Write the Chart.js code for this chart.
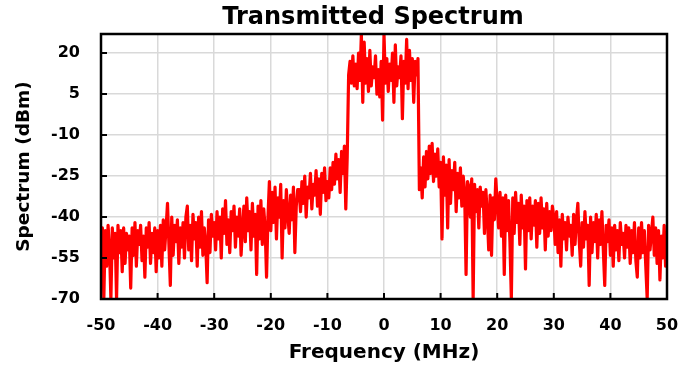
<!DOCTYPE html>
<html>
<head>
<meta charset="utf-8">
<script src="https://cdn.jsdelivr.net/npm/chart.js@4.4.1/dist/chart.umd.min.js"></script>
<style>
    html, body { margin: 0; padding: 0; background: #fff; }
    #wrap { width: 697px; height: 371px; }
</style>
</head>
<body>
<div id="wrap"><canvas id="spectrum" width="697" height="371"></canvas></div>
<script>
// Transmitted spectrum (dBm), one value every 0.25 MHz from -50 to 50
const freqStart = -50;
const freqStep = 0.25;

const spectrumDbm = [
    -56, -44, -70, -45, -58, -43, -52, -70, -44, -55, -46, -70, -43, -53, -45, -60, -44, -57, -46, -52, // -50
    -47, -66, -44, -54, -42, -58, -45, -50, -43, -56, -47, -62, -44, -51, -42, -57, -46, -53, -44, -60, // -45
    -45, -55, -43, -58, -41, -52, -44, -35, -50, -65, -40, -54, -43, -49, -41, -57, -44, -51, -42, -55, // -40
    -40, -36, -52, -43, -56, -39, -48, -42, -58, -40, -51, -38, -54, -44, -50, -64, -41, -53, -39, -47, // -35
    -42, -52, -38, -48, -40, -55, -37, -46, -34, -50, -41, -53, -38, -45, -36, -51, -40, -47, -37, -54, // -30
    -44, -36, -49, -33, -45, -38, -52, -35, -47, -39, -61, -36, -48, -34, -50, -37, -44, -62, -40, -27, // -25
    -45, -31, -42, -29, -48, -33, -40, -28, -55, -34, -44, -30, -39, -46, -32, -41, -29, -53, -36, -30, // -20
    -30, -38, -27, -35, -25, -40, -29, -33, -24, -37, -28, -32, -23, -36, -26, -39, -24, -31, -22, -34, // -15
    -27, -33, -22, -30, -20, -28, -17, -26, -19, -31, -16, -24, -14, -37, -18, 12, 17, 9, 19, 8,       // -10
    16, 7, 20, 10, 27, 2, 24, 9, 18, 6, 21, 8, 15, 11, 19, 5, 14, 4, 17, -4.5,                          // -5
    27, 9, 18, 6, 16, 10, 20, 2, 23, 8, 15, 11, 19, -4, 17, 9, 25, 7, 21, 10,                           // 0
    18, 2, 17, 12, 18, -30, -22, -33, -18, -29, -16, -26, -14, -24, -13, -27, -17, -25, -15, -29,       // 5
    -20, -48, -18, -32, -21, -44, -19, -35, -23, -30, -20, -38, -24, -33, -22, -36, -25, -31, -61, -27, // 10
    -29, -40, -26, -70, -28, -38, -30, -44, -29, -36, -31, -46, -30, -39, -52, -32, -54, -33, -41, -26, // 15
    -35, -44, -31, -47, -33, -61, -32, -45, -34, -49, -70, -33, -46, -31, -42, -35, -50, -32, -44, -36, // 20
    -59, -34, -45, -33, -48, -36, -43, -34, -51, -35, -46, -33, -44, -37, -52, -35, -47, -38, -45, -36, // 25
    -40, -50, -38, -53, -41, -58, -39, -48, -42, -52, -40, -47, -43, -54, -39, -50, -41, -35, -49, -58, // 30
    -42, -51, -38, -48, -43, -65, -40, -53, -42, -49, -39, -55, -41, -50, -38, -52, -65, -43, -49, -41, // 35
    -54, -44, -58, -43, -52, -45, -56, -42, -50, -46, -55, -43, -51, -44, -57, -45, -53, -42, -56, -62, // 40
    -44, -55, -42, -53, -45, -58, -70, -43, -52, -46, -40, -54, -44, -57, -45, -63, -47, -55, -43, -58, // 45
    -52                                                                                                 // 50
];

const yTicks = [-70, -55, -40, -25, -10, 5, 20];
const xTicks = [-50, -40, -30, -20, -10, 0, 10, 20, 30, 40, 50];

const points = spectrumDbm.map((v, i) => ({ x: freqStart + i * freqStep, y: v }));

const FONT = 'DejaVu Sans';

// frame, inward tick marks and the title
const decorations = {
    id: 'decorations',
    afterDraw(chart) {
        const { ctx, chartArea: a, scales } = chart;
        ctx.save();
        ctx.strokeStyle = '#000';
        ctx.lineWidth = 2;
        ctx.beginPath();
        yTicks.forEach(v => {
            if (v === -70) return;
            const y = scales.y.getPixelForValue(v);
            ctx.moveTo(a.left, y);
            ctx.lineTo(a.left + 6, y);
        });
        xTicks.forEach(v => {
            if (v === -50 || v === 50) return;
            const x = scales.x.getPixelForValue(v);
            ctx.moveTo(x, a.bottom);
            ctx.lineTo(x, a.bottom - 6);
        });
        ctx.stroke();

        ctx.lineWidth = 2.5;
        ctx.strokeRect(a.left, a.top, a.right - a.left, a.bottom - a.top);

        ctx.fillStyle = '#000';
        ctx.font = 'bold 24px "' + FONT + '"';
        ctx.textAlign = 'center';
        ctx.textBaseline = 'alphabetic';
        ctx.fillText('Transmitted Spectrum', 373, 24);
        ctx.restore();
    }
};

new Chart(document.getElementById('spectrum'), {
    type: 'line',
    data: {
        datasets: [{
            label: 'Spectrum',
            data: points,
            borderColor: '#ff0000',
            borderWidth: 3.2,
            borderJoinStyle: 'round',
            pointRadius: 0,
            tension: 0,
            fill: false
        }]
    },
    options: {
        responsive: false,
        animation: false,
        events: [],
        layout: { padding: { top: 34, right: 30, bottom: 0, left: 0 } },
        plugins: {
            legend: { display: false },
            title: { display: false },
            tooltip: { enabled: false }
        },
        scales: {
            x: {
                type: 'linear',
                min: -50,
                max: 50,
                afterBuildTicks: s => { s.ticks = xTicks.map(v => ({ value: v })); },
                afterFit: s => { s.height = 72; },
                grid: { color: '#d9d9d9', lineWidth: 1.5, drawTicks: false },
                border: { display: false },
                ticks: {
                    color: '#000',
                    padding: 17,
                    maxRotation: 0,
                    font: { family: FONT, size: 16, weight: 'bold' }
                },
                title: {
                    display: true,
                    text: 'Frequency (MHz)',
                    color: '#000',
                    padding: { top: 0, bottom: 6 },
                    font: { family: FONT, size: 20, weight: 'bold' }
                }
            },
            y: {
                type: 'linear',
                min: -70,
                max: 27,
                afterBuildTicks: s => { s.ticks = yTicks.map(v => ({ value: v })); },
                afterFit: s => { s.width = 101; },
                grid: { color: '#d9d9d9', lineWidth: 1.5, drawTicks: false },
                border: { display: false },
                ticks: {
                    color: '#000',
                    padding: 21,
                    font: { family: FONT, size: 16, weight: 'bold' }
                },
                title: {
                    display: true,
                    text: 'Spectrum (dBm)',
                    color: '#000',
                    padding: { top: 13, bottom: 0 },
                    font: { family: FONT, size: 18.5, weight: 'bold' }
                }
            }
        }
    },
    plugins: [decorations]
});
</script>
</body>
</html>
